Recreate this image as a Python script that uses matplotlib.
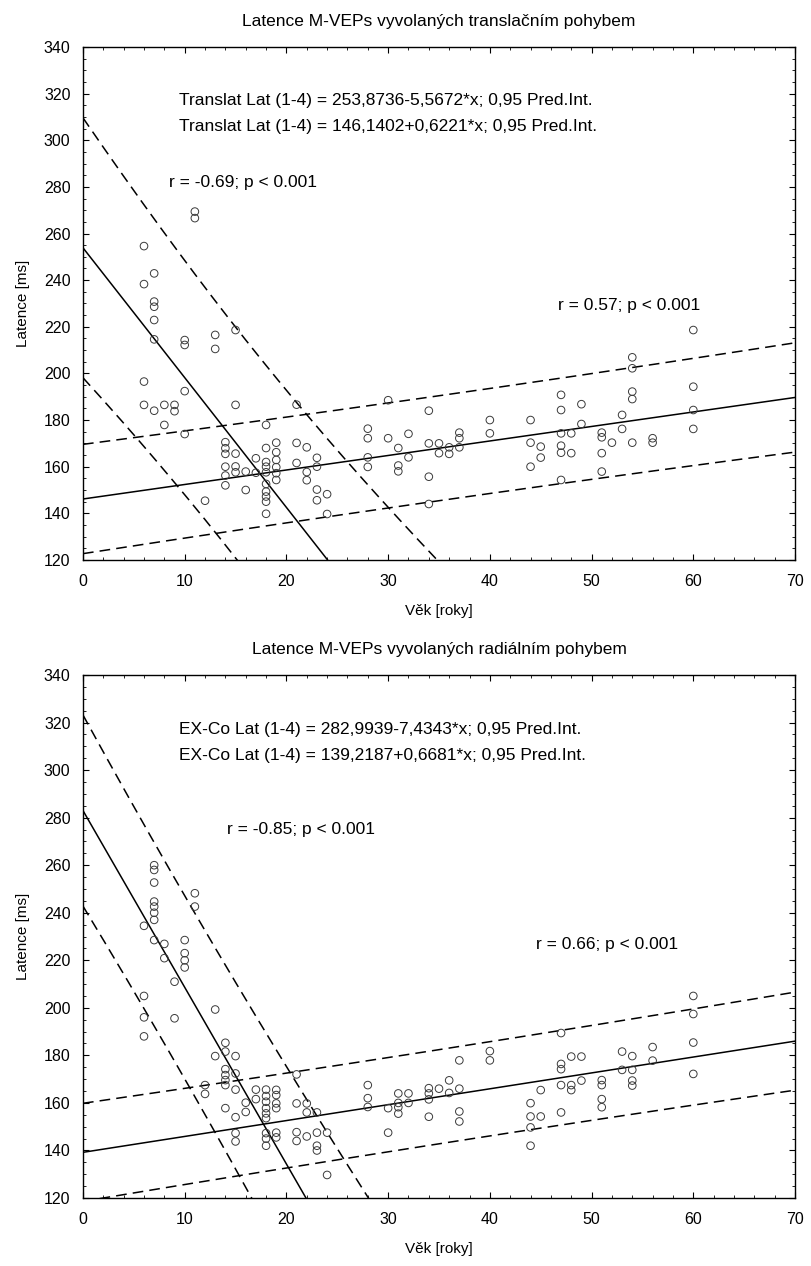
import numpy as np
import matplotlib
matplotlib.use("Agg")
import matplotlib.pyplot as plt
from matplotlib.ticker import MultipleLocator

plt.rcParams['font.family'] = ['Liberation Sans', 'DejaVu Sans']

# --- translational motion (top panel) ---
trans_age = [6, 6, 6, 6,
             7, 7, 7, 7, 7, 7,
             8, 8, 9, 9,
             10, 10, 10, 10, 11, 11, 12, 13, 13,
             14, 14, 14, 14, 14, 14,
             15, 15, 15, 15, 15, 16, 16, 17, 17,
             18, 18, 18, 18, 18, 18, 18, 18, 18, 18,
             19, 19, 19, 19, 19, 19,
             21, 21, 21, 22, 22, 22, 23, 23, 23, 23, 24, 24,
             28, 28, 28, 28, 30, 30, 31, 31, 31, 32, 32,
             34, 34, 34, 34, 35, 35, 36, 36, 37, 37, 37, 40, 40,
             44, 44, 44, 45, 45,
             47, 47, 47, 47, 47, 47, 48, 48, 49, 49,
             51, 51, 51, 51, 52, 53, 53,
             54, 54, 54, 54, 54, 56, 56, 60, 60, 60, 60]
trans_lat = [254.6, 238.3, 196.5, 186.5,
             242.9, 230.8, 228.6, 222.9, 214.6, 184.0,
             186.5, 177.9, 186.5, 183.8,
             214.3, 212.2, 192.4, 174.0, 269.4, 266.6, 145.4, 216.5, 210.5,
             170.5, 167.9, 165.5, 160.0, 156.2, 152.0,
             218.6, 186.5, 165.6, 160.1, 157.6, 157.9, 150.0, 163.6, 157.4,
             177.9, 168.0, 162.0, 160.0, 157.6, 152.6, 149.3, 147.2, 145.0, 139.8,
             170.3, 166.2, 162.9, 159.8, 157.2, 154.3,
             186.6, 170.2, 161.6, 168.3, 157.7, 154.2, 163.8, 160.0, 150.2, 145.6, 148.2, 139.7,
             176.3, 172.2, 164.0, 159.9, 188.5, 172.2, 168.0, 160.5, 158.0, 174.1, 164.0,
             184.0, 170.0, 155.7, 144.0, 170.0, 165.8, 168.3, 165.5, 174.6, 172.2, 168.3, 180.0, 174.3,
             180.0, 170.3, 160.0, 168.6, 163.9,
             190.8, 184.3, 174.3, 169.0, 166.0, 154.3, 174.3, 165.8, 186.8, 178.3,
             174.6, 172.6, 165.8, 157.9, 170.3, 182.2, 176.2,
             206.9, 202.2, 192.2, 189.0, 170.3, 172.2, 170.3, 218.6, 194.3, 184.3, 176.2]

# --- radial motion (bottom panel) ---
rad_age = [6, 6, 6, 6,
           7, 7, 7, 7, 7, 7, 7, 7,
           8, 8, 9, 9, 10, 10, 10, 10, 11, 11, 12, 12, 13, 13,
           14, 14, 14, 14, 14, 14, 14,
           15, 15, 15, 15, 15, 15, 16, 16, 17, 17,
           18, 18, 18, 18, 18, 18, 18, 18, 18,
           19, 19, 19, 19, 19, 19,
           21, 21, 21, 21, 22, 22, 22, 23, 23, 23, 23, 24, 24,
           28, 28, 28, 30, 30, 31, 31, 31, 31, 32, 32,
           34, 34, 34, 34, 35, 36, 36, 37, 37, 37, 37, 40, 40,
           44, 44, 44, 44, 45, 45,
           47, 47, 47, 47, 47, 48, 48, 48, 49, 49,
           51, 51, 51, 51, 53, 53, 54, 54, 54, 54, 56, 56,
           60, 60, 60, 60]
rad_lat = [234.5, 205.0, 196.0, 188.0,
           260.0, 258.0, 252.7, 244.7, 242.6, 240.0, 237.0, 228.5,
           226.9, 220.9, 211.0, 195.6, 228.5, 223.0, 220.0, 217.0, 248.2, 242.6, 167.5, 163.8, 199.3, 179.7,
           185.3, 181.6, 174.2, 171.7, 169.6, 167.5, 157.8,
           179.7, 172.4, 165.6, 154.0, 147.3, 143.8, 160.1, 156.2, 165.6, 161.6,
           165.6, 162.9, 160.5, 157.8, 155.6, 153.6, 147.3, 145.0, 142.0,
           165.5, 163.3, 159.8, 157.8, 147.5, 145.5,
           172.0, 159.8, 147.7, 144.0, 159.8, 156.0, 145.9, 156.0, 147.5, 142.0, 140.0, 147.5, 129.7,
           167.5, 162.0, 158.3, 157.8, 147.5, 164.0, 160.0, 158.2, 155.5, 164.0, 160.0,
           166.2, 164.0, 161.5, 154.2, 166.0, 169.5, 164.2, 177.9, 166.0, 156.4, 152.2, 181.8, 177.9,
           159.9, 154.3, 149.7, 142.0, 165.4, 154.3,
           189.4, 176.4, 174.2, 167.5, 156.0, 179.5, 167.5, 165.4, 179.5, 169.4,
           169.6, 167.5, 161.6, 158.2, 181.6, 173.9, 179.7, 173.9, 169.4, 167.3, 183.5, 177.8,
           205.0, 197.4, 185.4, 172.2]

# fitted lines from the chart legends (intercept, slope)
trans_fit_young = (253.8736, -5.5672)
trans_fit_old = (146.1402, 0.6221)
rad_fit_young = (282.9939, -7.4343)
rad_fit_old = (139.2187, 0.6681)

# 0.95 prediction band: half-width at centre, centre age, spread
trans_pi_young = (49.5, 15, 29)
trans_pi_old = (22.5, 35, 120)
rad_pi_young = (38.5, 9, 30)
rad_pi_old = (19.8, 35, 120)


def draw_fit(ax, fit, pi):
    xs = np.linspace(0, 70, 300)
    yhat = fit[0] + fit[1] * xs
    half = pi[0] * np.sqrt(1 + ((xs - pi[1]) / pi[2]) ** 2)
    ax.plot(xs, yhat, color='black', lw=1.1)
    ax.plot(xs, yhat + half, color='black', lw=1.1, ls=(0, (7, 4)))
    ax.plot(xs, yhat - half, color='black', lw=1.1, ls=(0, (7, 4)))


def panel(ax, age, lat, fit_a, fit_b, pi_a, pi_b, title, eq1, eq2, r1, r1pos, r2, r2pos):
    ax.scatter(age, lat, s=30, facecolors='none', edgecolors='#3a3a3a', linewidths=0.7, zorder=3)
    draw_fit(ax, fit_a, pi_a)
    draw_fit(ax, fit_b, pi_b)
    ax.set_xlim(0, 70)
    ax.set_ylim(120, 340)
    ax.xaxis.set_major_locator(MultipleLocator(10))
    ax.xaxis.set_minor_locator(MultipleLocator(2))
    ax.yaxis.set_major_locator(MultipleLocator(20))
    ax.yaxis.set_minor_locator(MultipleLocator(5))
    ax.tick_params(which='both', direction='in', top=True, right=True, labelsize=11.5)
    ax.tick_params(which='major', length=4)
    ax.tick_params(which='minor', length=2.5)
    ax.tick_params(axis='y', which='major', pad=9)
    ax.tick_params(axis='x', which='major', pad=10)
    for s in ax.spines.values():
        s.set_linewidth(1.0)
    ax.set_title(title, fontsize=12.5, pad=15)
    ax.set_xlabel('Věk [roky]', fontsize=11, labelpad=11)
    ax.set_ylabel('Latence [ms]', fontsize=11, labelpad=10)
    ax.text(9.4, 317, eq1, fontsize=12.5, va='center')
    ax.text(9.4, 306, eq2, fontsize=12.5, va='center')
    ax.text(r1pos[0], r1pos[1], r1, fontsize=12.5, va='center')
    ax.text(r2pos[0], r2pos[1], r2, fontsize=12.5, va='center')


fig = plt.figure(figsize=(8.11, 12.66), dpi=100)
ax1 = fig.add_axes([0.1023, 0.5577, 0.878, 0.4052])
ax2 = fig.add_axes([0.1023, 0.0537, 0.878, 0.4131])

panel(ax1, trans_age, trans_lat, trans_fit_young, trans_fit_old, trans_pi_young, trans_pi_old,
      'Latence M-VEPs vyvolaných translačním pohybem',
      'Translat Lat (1-4) = 253,8736-5,5672*x; 0,95 Pred.Int.',
      'Translat Lat (1-4) = 146,1402+0,6221*x; 0,95 Pred.Int.',
      'r = -0.69; p < 0.001', (8.5, 282),
      'r = 0.57; p < 0.001', (46.7, 229))

panel(ax2, rad_age, rad_lat, rad_fit_young, rad_fit_old, rad_pi_young, rad_pi_old,
      'Latence M-VEPs vyvolaných radiálním pohybem',
      'EX-Co Lat (1-4) = 282,9939-7,4343*x; 0,95 Pred.Int.',
      'EX-Co Lat (1-4) = 139,2187+0,6681*x; 0,95 Pred.Int.',
      'r = -0.85; p < 0.001', (14.2, 275),
      'r = 0.66; p < 0.001', (44.5, 226.5))

fig.savefig('out.png', dpi=100)
